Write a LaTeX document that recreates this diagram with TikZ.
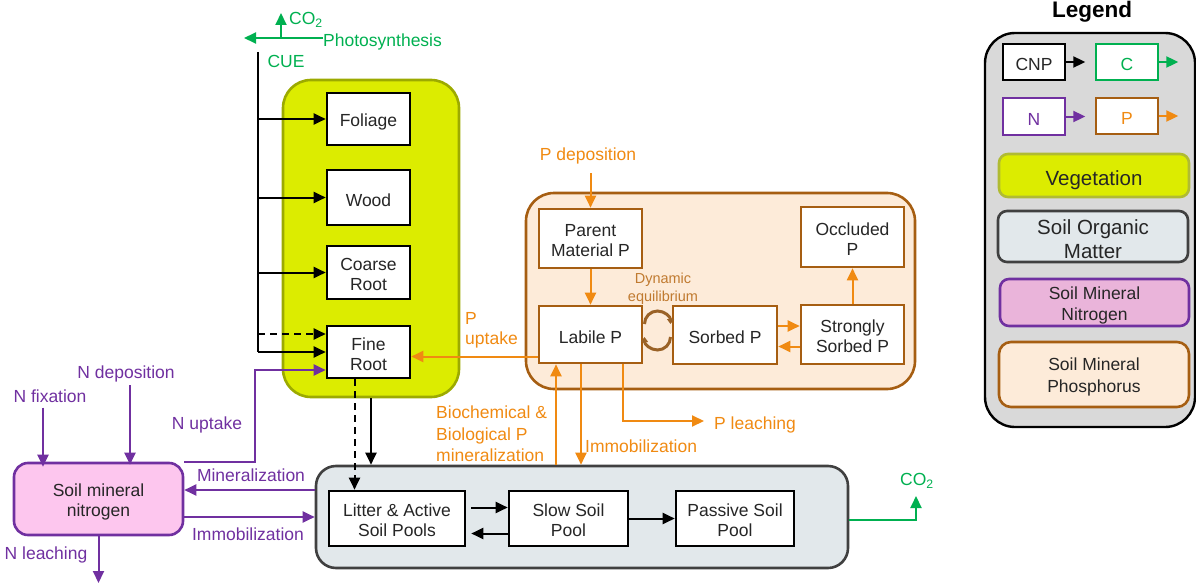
\documentclass[tikz,border=0pt]{standalone}
\usepackage{fontspec}
\setmainfont{Liberation Sans}
\usetikzlibrary{arrows.meta}

\definecolor{cgreen}{HTML}{00B050}
\definecolor{npurple}{HTML}{7030A0}
\definecolor{porange}{HTML}{F08A12}
\definecolor{pbrown}{HTML}{A65E12}
\definecolor{dynbrown}{HTML}{C07A30}
\definecolor{vegfill}{HTML}{DCEC00}
\definecolor{vegline}{HTML}{9CAA00}
\definecolor{somfill}{HTML}{E2E8EB}
\definecolor{somline}{HTML}{404040}
\definecolor{nfill}{HTML}{FDC6EE}
\definecolor{nlegfill}{HTML}{EAB4DA}
\definecolor{pfill}{HTML}{FDEBD9}
\definecolor{legfill}{HTML}{D9D9D9}

\newcommand\mainsz{\fontsize{17.5}{20}\selectfont}
\newcommand\bigsz{\fontsize{20.5}{24}\selectfont}
\newcommand\titlesz{\fontsize{22.5}{26}\selectfont}
% struts that give box texts a fixed top and bottom
\newcommand\botstrut{\rule[-2pt]{0pt}{0pt}}
\newcommand\tallfirst{\rule{0pt}{18pt}}

\tikzset{
  tip/.style={-{Triangle[length=12pt,width=11pt]}},
  cnp/.style={draw=black, line width=2pt, tip},
  narr/.style={draw=npurple, line width=2pt, tip},
  parr/.style={draw=porange, line width=2pt, tip},
  carr/.style={draw=cgreen, line width=2pt, tip},
  boxtext/.style={align=center, text=black!85,
    execute at begin node={\rule{0pt}{19pt}}, execute at end node=\botstrut},
  pool/.style={draw=black, line width=2.6pt, fill=white, inner sep=0pt,
    font=\mainsz, boxtext},
  ppool/.style={pool, draw=pbrown},
  lab/.style={inner sep=0pt, font=\mainsz},
  nlab/.style={lab, text=npurple},
  plab/.style={lab, text=porange},
  clab/.style={lab, text=cgreen},
  region/.style={line width=2.6pt, inner sep=0pt, rounded corners=#1},
}

\begin{document}
\begin{tikzpicture}[x=1pt,y=-1pt]
\useasboundingbox (0,0) rectangle (1196,586);

% ---------- compartments ----------
\node[region=28pt, draw=vegline, fill=vegfill, minimum width=176pt, minimum height=317pt] (veg) at (371,238.5) {};
\node[region=20pt, draw=somline, fill=somfill, minimum width=532pt, minimum height=102pt] (som) at (582,517) {};
\node[region=28pt, draw=pbrown, fill=pfill, minimum width=389pt, minimum height=196pt] (pbox) at (720.5,291) {};
\node[region=14pt, draw=npurple, fill=nfill, minimum width=169pt, minimum height=72pt,
      font=\mainsz, boxtext] (nbox) at (98.5,499) {\tallfirst Soil mineral\\nitrogen};

% ---------- vegetation pools ----------
\node[pool, minimum width=83pt, minimum height=52pt] (fol) at (368.5,119) {Foliage};
\node[pool, minimum width=83pt, minimum height=55pt] (wood) at (368.5,197.5) {Wood};
\node[pool, minimum width=83pt, minimum height=53pt] (coarse) at (368.5,272.5) {\tallfirst Coarse\\Root};
\node[pool, minimum width=83pt, minimum height=52pt] (fine) at (368.5,352) {\tallfirst Fine\\Root};

% ---------- soil organic matter pools ----------
\node[pool, minimum width=136pt, minimum height=55pt] (lit) at (397,518.5) {\tallfirst Litter \& Active\\Soil Pools};
\node[pool, minimum width=119pt, minimum height=55pt] (slow) at (568.5,518.5) {\tallfirst Slow Soil\\Pool};
\node[pool, minimum width=118pt, minimum height=55pt] (passive) at (735,518.5) {\tallfirst Passive Soil\\Pool};

% ---------- phosphorus pools ----------
\node[ppool, minimum width=103pt, minimum height=59pt] (parent) at (590.5,238.5) {\tallfirst Parent\\Material P};
\node[ppool, minimum width=103pt, minimum height=57pt] (labile) at (590.5,334.5) {Labile P};
\node[ppool, minimum width=104pt, minimum height=58pt] (sorbed) at (725,335) {Sorbed P};
\node[ppool, minimum width=103pt, minimum height=59pt] (strong) at (852.5,334.5) {\tallfirst Strongly\\Sorbed P};
\node[ppool, minimum width=103pt, minimum height=60pt] (occl) at (852.5,237) {\tallfirst Occluded\\P};

% ---------- carbon uptake and allocation ----------
\node[clab, anchor=west] (photo) at (323,42) {Photosynthesis};
\node[clab, anchor=west] (co2top) at (289,20) {CO\textsubscript{2}};
\node[clab] (cue) at (286,61) {CUE};
\coordinate (photoEnd) at (244,38);
\coordinate (co2base) at (281,38);
\coordinate (co2tip) at (281,13);
\draw[carr] (photo.west |- photoEnd) -- (photoEnd);
\draw[carr] (co2base) -- (co2tip);

\coordinate (trunkTop) at (258,52);
\coordinate (trunkBot) at (258,352);
\draw[black, line width=2pt] (trunkTop) -- (trunkBot);
\draw[cnp] (trunkTop |- fol.west) -- (fol.west);
\draw[cnp] (trunkTop |- wood.west) -- (wood.west);
\draw[cnp] (trunkTop |- coarse.west) -- (coarse.west);
\draw[cnp] (trunkBot) -- (fine.west);
\draw[cnp, dash pattern=on 7pt off 5pt] ([yshift=18pt]fine.west -| trunkTop) -- ([yshift=18pt]fine.west);

% ---------- litterfall ----------
\draw[cnp] (veg.south) -- (veg.south |- som.north);
\draw[cnp, dash pattern=on 7pt off 5pt] ([xshift=-14pt]fine.south) -- ([xshift=-14pt]fine.south |- lit.north);

% ---------- soil carbon transfers ----------
\draw[cnp, shorten <=5pt] ([yshift=11pt]lit.east) -- ([yshift=11pt]lit.east -| slow.west);
\draw[cnp, shorten >=5pt] ([yshift=-15pt]slow.west) -- ([yshift=-15pt]slow.west -| lit.east);
\draw[cnp] (slow.east) -- (passive.west);

\node[clab] (co2r) at (917,481) {CO\textsubscript{2}};
\coordinate (co2rtip) at (916,496);
\draw[carr] ([yshift=-3pt]som.east) -| (co2rtip);

% ---------- nitrogen ----------
\node[nlab] (nfix) at (50,396) {N fixation};
\node[nlab] (ndep) at (126,374) {N deposition};
\node[nlab] (nupt) at (207,425) {N uptake};
\node[nlab] (nmin) at (251,475) {Mineralization};
\node[nlab] (nimm) at (248,534) {Immobilization};
\node[nlab] (nlea) at (46,555) {N leaching};
\coordinate (nleachEnd) at (98.5,583);

\draw[narr] ([xshift=-7pt,yshift=-5pt]nfix.south) -- ([xshift=-7pt,yshift=-5pt]nfix.south |- nbox.north);
\draw[narr] ([xshift=4pt,yshift=-3pt]ndep.south) -- ([xshift=4pt,yshift=-3pt]ndep.south |- nbox.north);
\draw[narr] (nbox.north east) -- ++(71,0) |- ([yshift=-18pt]fine.west);
\draw[narr] ([yshift=27pt]som.west) -- ([yshift=27pt]som.west -| nbox.east);
\draw[narr] ([yshift=-18pt]nbox.east) -- ([yshift=-18pt]nbox.east -| som.west);
\draw[narr] (nbox.south) -- (nleachEnd);

% ---------- phosphorus ----------
\node[plab] (pdep) at (588,156) {P deposition};
\node[plab, anchor=west, align=left, font=\fontsize{17.5}{20}\selectfont] (pupt) at (465,330) {P\\uptake};
\node[plab, anchor=west, align=left, font=\fontsize{17.5}{21.5}\selectfont] (pmin) at (436,434) {Biochemical \&\\Biological P\\mineralization};
\node[plab, anchor=west] (pimm) at (585,446) {Immobilization};
\node[plab, anchor=west] (plea) at (714,425) {P leaching};
\node[lab, text=dynbrown, align=center, font=\fontsize{14.5}{18}\selectfont] (dyn) at (663,289) {Dynamic\\equilibrium};
\coordinate (pleachEnd) at (704,421);

\draw[parr] ([yshift=-9pt]pdep.south -| parent.north) -- (parent.north);
\draw[parr] (parent) -- (labile);
\draw[parr] (strong) -- (occl);
\draw[parr] ([yshift=9pt]sorbed.east) -- ([yshift=9pt]sorbed.east -| strong.west);
\draw[parr] ([yshift=-12pt]strong.west) -- ([yshift=-12pt]strong.west -| sorbed.east);
\draw[parr] ([yshift=-22pt]labile.west) -- ([yshift=-22pt]labile.west -| fine.east);
\draw[parr] ([xshift=-34.5pt]labile.south |- som.north) -- ([xshift=-34.5pt]labile.south);
\draw[parr] ([xshift=-9.5pt]labile.south) -- ([xshift=-9.5pt]labile.south |- som.north);
\draw[parr] ([xshift=32.5pt]labile.south) |- (pleachEnd);

% sorption equilibrium between labile and sorbed P
\coordinate (eq) at (657.5,330);
\draw[dynbrown!80!black, line width=3pt, -{Triangle[length=5pt,width=7pt]}]
  ([shift={(-13pt,6pt)}]eq) arc[start angle=180, end angle=0, radius=13pt];
\draw[dynbrown!80!black, line width=3pt, -{Triangle[length=5pt,width=7pt]}]
  ([shift={(13pt,-7pt)}]eq) arc[start angle=0, end angle=-180, radius=13pt];

% ---------- legend ----------
\node[font=\titlesz\bfseries, inner sep=0pt] (legt) at (1092,12) {Legend};
\node[region=30pt, draw=black, line width=2.4pt, fill=legfill, minimum width=210pt, minimum height=394pt] (leg) at (1090,230) {};

\node[pool, minimum width=62pt, minimum height=36pt] (lcnp) at (1034,62) {CNP};
\node[pool, draw=cgreen, text=cgreen, minimum width=62pt, minimum height=36pt] (lc) at (1127,62) {C};
\node[pool, draw=npurple, text=npurple, minimum width=62pt, minimum height=37pt] (ln) at (1034,116.5) {N};
\node[pool, draw=pbrown, text=porange, minimum width=62pt, minimum height=36pt] (lp) at (1127,116) {P};
\draw[cnp] (lcnp.east) -- ++(19,0);
\draw[carr] (lc.east) -- ++(19,0);
\draw[narr] (ln.east) -- ++(19,0);
\draw[parr] (lp.east) -- ++(19,0);

\node[region=9pt, draw=vegline!80, fill=vegfill, minimum width=190pt, minimum height=43pt,
      font=\bigsz, boxtext, execute at begin node={\rule{0pt}{24pt}}] (lveg) at (1094,175.5) {Vegetation};
\node[region=9pt, draw=somline, fill=somfill, minimum width=190pt, minimum height=51pt,
      font=\bigsz, boxtext] (lsom) at (1093,236.5) {\rule{0pt}{21pt}Soil Organic\\Matter};
\node[region=9pt, draw=npurple, fill=nlegfill, minimum width=189pt, minimum height=47pt,
      font=\fontsize{17.5}{21}\selectfont, boxtext] (lsmn) at (1094.5,302.5) {\tallfirst Soil Mineral\\Nitrogen};
\node[region=12pt, draw=pbrown, fill=pfill, minimum width=190pt, minimum height=65pt,
      font=\fontsize{17.5}{22}\selectfont, boxtext] (lsmp) at (1094,374.5) {\tallfirst Soil Mineral\\Phosphorus};
\end{tikzpicture}
\end{document}
